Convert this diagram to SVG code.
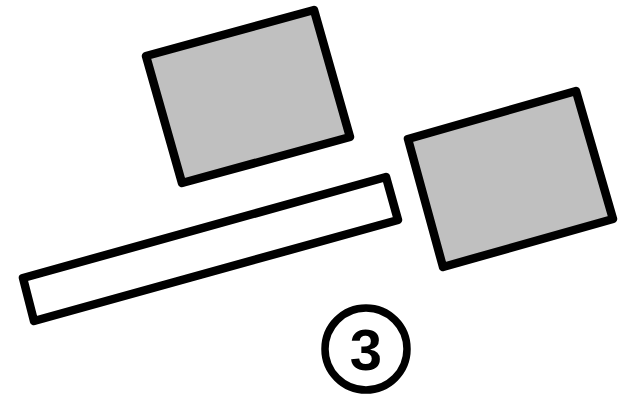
<svg xmlns="http://www.w3.org/2000/svg" width="625" height="400" viewBox="0 0 625 400">
<style>
.s{stroke:#000;stroke-width:8.5;stroke-linejoin:round}
.g{fill:#c0c0c0}
.w{fill:#fff}
.lbl{font-family:"Liberation Sans",Arial,sans-serif;font-weight:bold;font-size:58px;fill:#000}
</style>
<rect width="625" height="400" fill="#fff"/>
<g id="box1"><polygon class="s g" points="146,56 314,10 350,137 182,183"/></g>
<g id="box2"><polygon class="s g" points="408,139 576,91 613,219 443,267"/></g>
<g id="bar"><polygon class="s w" points="23,278 386,177 398,220 34,321"/></g>
<g id="label">
<circle cx="366" cy="349" r="41" fill="#fff" stroke="#000" stroke-width="7.5"/>
<text class="lbl" x="366" y="370" text-anchor="middle">3</text>
</g>
<g id="connectors"></g>
</svg>
